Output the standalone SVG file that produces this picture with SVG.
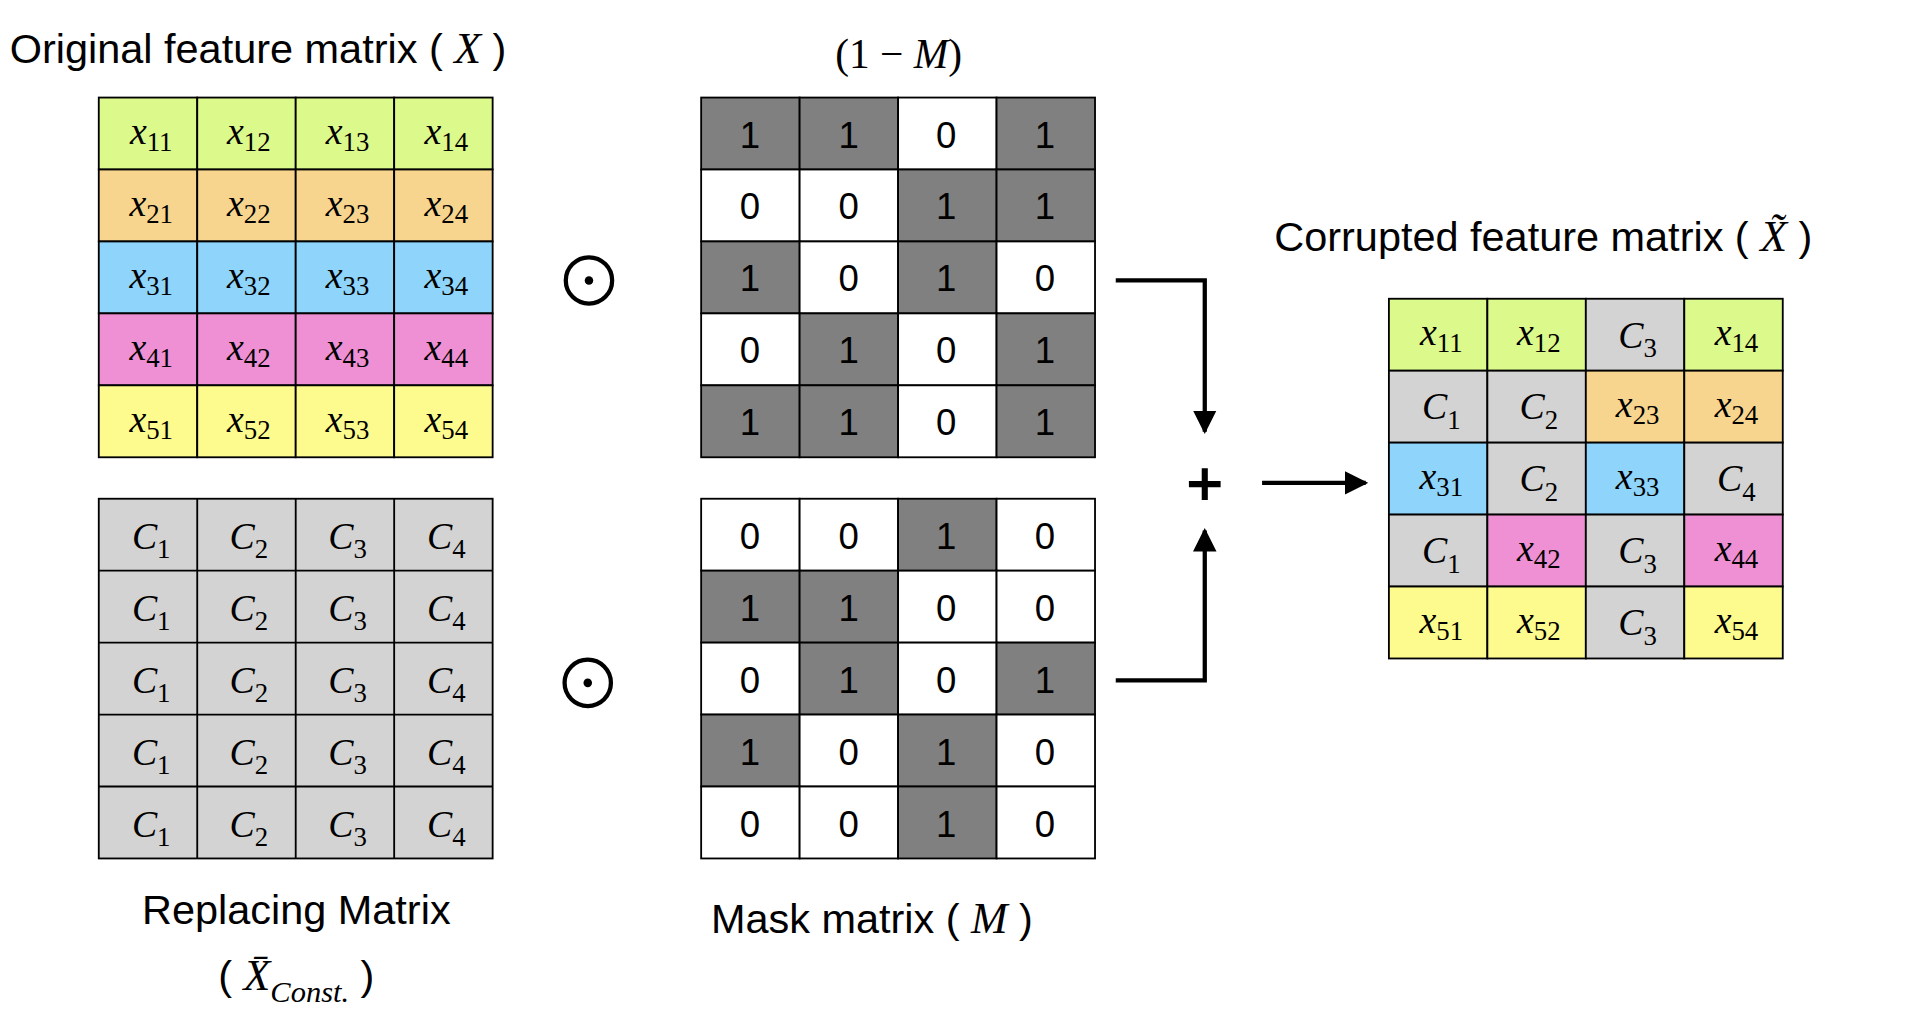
<svg xmlns="http://www.w3.org/2000/svg" width="1912" height="1018" viewBox="0 0 1912 1018">
<defs>
<style>
.c{stroke:#000;stroke-width:1.5}
.g{fill:#dcf98c}.o{fill:#f8d58e}.b{fill:#8ed4fb}.p{fill:#ee90d3}.y{fill:#fefb8e}.k{fill:#d3d3d3}.d{fill:#808080}.w{fill:#fff}
.m{font-family:"Liberation Serif",serif;font-size:31px;text-anchor:middle}
.i{font-style:italic}
.s{font-size:22px;font-style:normal}
.n{font-family:"Liberation Sans",sans-serif;font-size:30px;text-anchor:middle}
.t{font-family:"Liberation Sans",sans-serif;font-size:34px}
.v{font-family:"Liberation Serif",serif;font-style:italic;font-size:36px}
.ln{fill:none;stroke:#000;stroke-width:3.5}
</style>
<marker id="ah" viewBox="0 0 10 10" refX="9" refY="5" markerWidth="5.5" markerHeight="5.5" orient="auto" markerUnits="strokeWidth"><path d="M0,0L10,5L0,10z"/></marker>
</defs>
<rect width="1912" height="1018" fill="#fff"/>
<g transform="scale(1.2194)">
<g id="title-x"><text class="t" x="8" y="52">Original feature matrix ( <tspan class="v">X</tspan> )</text></g>
<g id="title-1m"><text x="737" y="56" font-family="Liberation Serif,serif" font-size="34" text-anchor="middle">(1 − <tspan font-style="italic">M</tspan>)</text></g>
<g id="title-corrupt"><text class="t" x="1045" y="206">Corrupted feature matrix ( <tspan class="v">X̃</tspan> )</text></g>
<g id="title-replace"><text class="t" x="243" y="758" text-anchor="middle">Replacing Matrix</text><text class="t" x="243" y="812" text-anchor="middle">( <tspan class="v">X̄<tspan font-size="25" dy="10">Const.</tspan></tspan><tspan dy="-10"> )</tspan></text></g>
<g id="title-mask"><text class="t" x="583" y="765">Mask matrix ( <tspan class="v">M</tspan> )</text></g>

<g id="matrix-x">
<rect class="c g" x="81" y="80" width="80.75" height="59"/><rect class="c g" x="161.75" y="80" width="80.75" height="59"/><rect class="c g" x="242.5" y="80" width="80.75" height="59"/><rect class="c g" x="323.25" y="80" width="80.75" height="59"/>
<rect class="c o" x="81" y="139" width="80.75" height="59"/><rect class="c o" x="161.75" y="139" width="80.75" height="59"/><rect class="c o" x="242.5" y="139" width="80.75" height="59"/><rect class="c o" x="323.25" y="139" width="80.75" height="59"/>
<rect class="c b" x="81" y="198" width="80.75" height="59"/><rect class="c b" x="161.75" y="198" width="80.75" height="59"/><rect class="c b" x="242.5" y="198" width="80.75" height="59"/><rect class="c b" x="323.25" y="198" width="80.75" height="59"/>
<rect class="c p" x="81" y="257" width="80.75" height="59"/><rect class="c p" x="161.75" y="257" width="80.75" height="59"/><rect class="c p" x="242.5" y="257" width="80.75" height="59"/><rect class="c p" x="323.25" y="257" width="80.75" height="59"/>
<rect class="c y" x="81" y="316" width="80.75" height="59"/><rect class="c y" x="161.75" y="316" width="80.75" height="59"/><rect class="c y" x="242.5" y="316" width="80.75" height="59"/><rect class="c y" x="323.25" y="316" width="80.75" height="59"/>
<text class="m i" x="124" y="118">x<tspan class="s" dy="6">11</tspan></text><text class="m i" x="204" y="118">x<tspan class="s" dy="6">12</tspan></text><text class="m i" x="285" y="118">x<tspan class="s" dy="6">13</tspan></text><text class="m i" x="366" y="118">x<tspan class="s" dy="6">14</tspan></text>
<text class="m i" x="124" y="177">x<tspan class="s" dy="6">21</tspan></text><text class="m i" x="204" y="177">x<tspan class="s" dy="6">22</tspan></text><text class="m i" x="285" y="177">x<tspan class="s" dy="6">23</tspan></text><text class="m i" x="366" y="177">x<tspan class="s" dy="6">24</tspan></text>
<text class="m i" x="124" y="236">x<tspan class="s" dy="6">31</tspan></text><text class="m i" x="204" y="236">x<tspan class="s" dy="6">32</tspan></text><text class="m i" x="285" y="236">x<tspan class="s" dy="6">33</tspan></text><text class="m i" x="366" y="236">x<tspan class="s" dy="6">34</tspan></text>
<text class="m i" x="124" y="295">x<tspan class="s" dy="6">41</tspan></text><text class="m i" x="204" y="295">x<tspan class="s" dy="6">42</tspan></text><text class="m i" x="285" y="295">x<tspan class="s" dy="6">43</tspan></text><text class="m i" x="366" y="295">x<tspan class="s" dy="6">44</tspan></text>
<text class="m i" x="124" y="354">x<tspan class="s" dy="6">51</tspan></text><text class="m i" x="204" y="354">x<tspan class="s" dy="6">52</tspan></text><text class="m i" x="285" y="354">x<tspan class="s" dy="6">53</tspan></text><text class="m i" x="366" y="354">x<tspan class="s" dy="6">54</tspan></text>
</g>

<g id="matrix-const">
<rect class="c k" x="81" y="409" width="323" height="295"/>
<path class="c" d="M161.75 409V704M242.5 409V704M323.25 409V704M81 468H404M81 527H404M81 586H404M81 645H404"/>
<g class="m i">
<text x="124" y="450">C<tspan class="s" dy="8">1</tspan></text><text x="204" y="450">C<tspan class="s" dy="8">2</tspan></text><text x="285" y="450">C<tspan class="s" dy="8">3</tspan></text><text x="366" y="450">C<tspan class="s" dy="8">4</tspan></text>
<text x="124" y="509">C<tspan class="s" dy="8">1</tspan></text><text x="204" y="509">C<tspan class="s" dy="8">2</tspan></text><text x="285" y="509">C<tspan class="s" dy="8">3</tspan></text><text x="366" y="509">C<tspan class="s" dy="8">4</tspan></text>
<text x="124" y="568">C<tspan class="s" dy="8">1</tspan></text><text x="204" y="568">C<tspan class="s" dy="8">2</tspan></text><text x="285" y="568">C<tspan class="s" dy="8">3</tspan></text><text x="366" y="568">C<tspan class="s" dy="8">4</tspan></text>
<text x="124" y="627">C<tspan class="s" dy="8">1</tspan></text><text x="204" y="627">C<tspan class="s" dy="8">2</tspan></text><text x="285" y="627">C<tspan class="s" dy="8">3</tspan></text><text x="366" y="627">C<tspan class="s" dy="8">4</tspan></text>
<text x="124" y="686">C<tspan class="s" dy="8">1</tspan></text><text x="204" y="686">C<tspan class="s" dy="8">2</tspan></text><text x="285" y="686">C<tspan class="s" dy="8">3</tspan></text><text x="366" y="686">C<tspan class="s" dy="8">4</tspan></text>
</g>
</g>

<g id="matrix-1m">
<rect class="c d" x="575" y="80" width="80.75" height="59"/><rect class="c d" x="655.75" y="80" width="80.75" height="59"/><rect class="c w" x="736.5" y="80" width="80.75" height="59"/><rect class="c d" x="817.25" y="80" width="80.75" height="59"/>
<rect class="c w" x="575" y="139" width="80.75" height="59"/><rect class="c w" x="655.75" y="139" width="80.75" height="59"/><rect class="c d" x="736.5" y="139" width="80.75" height="59"/><rect class="c d" x="817.25" y="139" width="80.75" height="59"/>
<rect class="c d" x="575" y="198" width="80.75" height="59"/><rect class="c w" x="655.75" y="198" width="80.75" height="59"/><rect class="c d" x="736.5" y="198" width="80.75" height="59"/><rect class="c w" x="817.25" y="198" width="80.75" height="59"/>
<rect class="c w" x="575" y="257" width="80.75" height="59"/><rect class="c d" x="655.75" y="257" width="80.75" height="59"/><rect class="c w" x="736.5" y="257" width="80.75" height="59"/><rect class="c d" x="817.25" y="257" width="80.75" height="59"/>
<rect class="c d" x="575" y="316" width="80.75" height="59"/><rect class="c d" x="655.75" y="316" width="80.75" height="59"/><rect class="c w" x="736.5" y="316" width="80.75" height="59"/><rect class="c d" x="817.25" y="316" width="80.75" height="59"/>
<g class="n">
<text x="615" y="121">1</text><text x="696" y="121">1</text><text x="776" y="121">0</text><text x="857" y="121">1</text>
<text x="615" y="180">0</text><text x="696" y="180">0</text><text x="776" y="180">1</text><text x="857" y="180">1</text>
<text x="615" y="239">1</text><text x="696" y="239">0</text><text x="776" y="239">1</text><text x="857" y="239">0</text>
<text x="615" y="298">0</text><text x="696" y="298">1</text><text x="776" y="298">0</text><text x="857" y="298">1</text>
<text x="615" y="357">1</text><text x="696" y="357">1</text><text x="776" y="357">0</text><text x="857" y="357">1</text>
</g>
</g>

<g id="matrix-m">
<rect class="c w" x="575" y="409" width="80.75" height="59"/><rect class="c w" x="655.75" y="409" width="80.75" height="59"/><rect class="c d" x="736.5" y="409" width="80.75" height="59"/><rect class="c w" x="817.25" y="409" width="80.75" height="59"/>
<rect class="c d" x="575" y="468" width="80.75" height="59"/><rect class="c d" x="655.75" y="468" width="80.75" height="59"/><rect class="c w" x="736.5" y="468" width="80.75" height="59"/><rect class="c w" x="817.25" y="468" width="80.75" height="59"/>
<rect class="c w" x="575" y="527" width="80.75" height="59"/><rect class="c d" x="655.75" y="527" width="80.75" height="59"/><rect class="c w" x="736.5" y="527" width="80.75" height="59"/><rect class="c d" x="817.25" y="527" width="80.75" height="59"/>
<rect class="c d" x="575" y="586" width="80.75" height="59"/><rect class="c w" x="655.75" y="586" width="80.75" height="59"/><rect class="c d" x="736.5" y="586" width="80.75" height="59"/><rect class="c w" x="817.25" y="586" width="80.75" height="59"/>
<rect class="c w" x="575" y="645" width="80.75" height="59"/><rect class="c w" x="655.75" y="645" width="80.75" height="59"/><rect class="c d" x="736.5" y="645" width="80.75" height="59"/><rect class="c w" x="817.25" y="645" width="80.75" height="59"/>
<g class="n">
<text x="615" y="450">0</text><text x="696" y="450">0</text><text x="776" y="450">1</text><text x="857" y="450">0</text>
<text x="615" y="509">1</text><text x="696" y="509">1</text><text x="776" y="509">0</text><text x="857" y="509">0</text>
<text x="615" y="568">0</text><text x="696" y="568">1</text><text x="776" y="568">0</text><text x="857" y="568">1</text>
<text x="615" y="627">1</text><text x="696" y="627">0</text><text x="776" y="627">1</text><text x="857" y="627">0</text>
<text x="615" y="686">0</text><text x="696" y="686">0</text><text x="776" y="686">1</text><text x="857" y="686">0</text>
</g>
</g>

<g id="matrix-corrupt">
<rect class="c g" x="1139" y="245" width="80.75" height="59"/><rect class="c g" x="1219.75" y="245" width="80.75" height="59"/><rect class="c k" x="1300.5" y="245" width="80.75" height="59"/><rect class="c g" x="1381.25" y="245" width="80.75" height="59"/>
<rect class="c k" x="1139" y="304" width="80.75" height="59"/><rect class="c k" x="1219.75" y="304" width="80.75" height="59"/><rect class="c o" x="1300.5" y="304" width="80.75" height="59"/><rect class="c o" x="1381.25" y="304" width="80.75" height="59"/>
<rect class="c b" x="1139" y="363" width="80.75" height="59"/><rect class="c k" x="1219.75" y="363" width="80.75" height="59"/><rect class="c b" x="1300.5" y="363" width="80.75" height="59"/><rect class="c k" x="1381.25" y="363" width="80.75" height="59"/>
<rect class="c k" x="1139" y="422" width="80.75" height="59"/><rect class="c p" x="1219.75" y="422" width="80.75" height="59"/><rect class="c k" x="1300.5" y="422" width="80.75" height="59"/><rect class="c p" x="1381.25" y="422" width="80.75" height="59"/>
<rect class="c y" x="1139" y="481" width="80.75" height="59"/><rect class="c y" x="1219.75" y="481" width="80.75" height="59"/><rect class="c k" x="1300.5" y="481" width="80.75" height="59"/><rect class="c y" x="1381.25" y="481" width="80.75" height="59"/>
<g class="m i">
<text x="1182" y="283">x<tspan class="s" dy="6">11</tspan></text><text x="1262" y="283">x<tspan class="s" dy="6">12</tspan></text><text x="1343" y="285">C<tspan class="s" dy="8">3</tspan></text><text x="1424" y="283">x<tspan class="s" dy="6">14</tspan></text>
<text x="1182" y="344">C<tspan class="s" dy="8">1</tspan></text><text x="1262" y="344">C<tspan class="s" dy="8">2</tspan></text><text x="1343" y="342">x<tspan class="s" dy="6">23</tspan></text><text x="1424" y="342">x<tspan class="s" dy="6">24</tspan></text>
<text x="1182" y="401">x<tspan class="s" dy="6">31</tspan></text><text x="1262" y="403">C<tspan class="s" dy="8">2</tspan></text><text x="1343" y="401">x<tspan class="s" dy="6">33</tspan></text><text x="1424" y="403">C<tspan class="s" dy="8">4</tspan></text>
<text x="1182" y="462">C<tspan class="s" dy="8">1</tspan></text><text x="1262" y="460">x<tspan class="s" dy="6">42</tspan></text><text x="1343" y="462">C<tspan class="s" dy="8">3</tspan></text><text x="1424" y="460">x<tspan class="s" dy="6">44</tspan></text>
<text x="1182" y="519">x<tspan class="s" dy="6">51</tspan></text><text x="1262" y="519">x<tspan class="s" dy="6">52</tspan></text><text x="1343" y="521">C<tspan class="s" dy="8">3</tspan></text><text x="1424" y="519">x<tspan class="s" dy="6">54</tspan></text>
</g>
</g>

<g id="odot-1"><circle cx="483" cy="230" r="19" fill="none" stroke="#000" stroke-width="3.5"/><circle cx="483" cy="230" r="3.5"/></g>
<g id="odot-2"><circle cx="482" cy="560" r="19" fill="none" stroke="#000" stroke-width="3.5"/><circle cx="482" cy="560" r="3.5"/></g>
<g id="plus"><path d="M988 384V410M975 397H1001" stroke="#000" stroke-width="5"/></g>

<g id="connectors">
<path class="ln" d="M915 230H988V354" marker-end="url(#ah)"/>
<path class="ln" d="M915 558H988V435" marker-end="url(#ah)"/>
<path class="ln" d="M1035 396H1120" marker-end="url(#ah)"/>
</g>
</g>
</svg>
